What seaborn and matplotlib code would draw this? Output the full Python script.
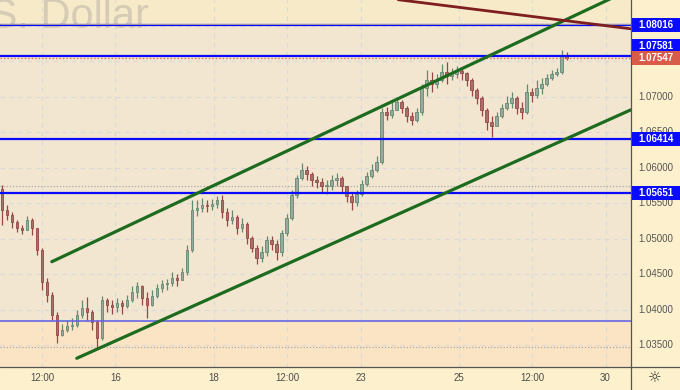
import numpy as np
import pandas as pd
import matplotlib
matplotlib.use("Agg")
import matplotlib.pyplot as plt
import seaborn as sns
from matplotlib.patches import Rectangle

# ---------------- data ----------------
first_open = 1.0570
closes = [1.0541, 1.0534, 1.0524, 1.0516, 1.0513, 1.0527, 1.0516, 1.0485, 1.0439, 1.0421,
          1.0393, 1.0365, 1.0372, 1.0377, 1.0379, 1.0393, 1.0403, 1.0397, 1.0383, 1.0361,
          1.0414, 1.0407, 1.0404, 1.0410, 1.0406, 1.0414, 1.0425, 1.0434, 1.0417, 1.0407,
          1.0420, 1.0431, 1.0437, 1.0438, 1.0445, 1.0442, 1.0454, 1.0485, 1.0541, 1.0544,
          1.0548, 1.0546, 1.0549, 1.0555, 1.0538, 1.0527, 1.0531, 1.0516, 1.0521, 1.0501,
          1.0487, 1.0473, 1.0482, 1.0499, 1.0493, 1.0482, 1.0508, 1.0530, 1.0562, 1.0586,
          1.0597, 1.0592, 1.0583, 1.0580, 1.0575, 1.0575, 1.0583, 1.0586, 1.0575, 1.0561,
          1.0552, 1.0563, 1.0577, 1.0589, 1.0597, 1.0608, 1.0679, 1.0675, 1.0682, 1.0693,
          1.0684, 1.0673, 1.0668, 1.0679, 1.0713, 1.0724, 1.0718, 1.0724, 1.0735, 1.0730,
          1.0732, 1.0737, 1.0734, 1.0724, 1.0710, 1.0699, 1.0682, 1.0665, 1.0659, 1.0673,
          1.0684, 1.0692, 1.0699, 1.0684, 1.0679, 1.0707, 1.0703, 1.0713, 1.0718, 1.0727,
          1.0732, 1.0735, 1.0758, 1.0755]
highs = [1.0576, 1.0548, 1.0538, 1.0527, 1.0520, 1.0532, 1.0530, 1.0516, 1.0487, 1.0445,
         1.0425, 1.0397, 1.0380, 1.0386, 1.0389, 1.0400, 1.0414, 1.0418, 1.0400, 1.0386,
         1.0420, 1.0417, 1.0414, 1.0417, 1.0414, 1.0421, 1.0434, 1.0439, 1.0435, 1.0425,
         1.0428, 1.0437, 1.0442, 1.0444, 1.0454, 1.0451, 1.0459, 1.0492, 1.0555, 1.0555,
         1.0558, 1.0555, 1.0556, 1.0561, 1.0562, 1.0544, 1.0541, 1.0534, 1.0530, 1.0524,
         1.0504, 1.0492, 1.0490, 1.0504, 1.0504, 1.0499, 1.0513, 1.0535, 1.0569, 1.0590,
         1.0607, 1.0603, 1.0594, 1.0589, 1.0586, 1.0583, 1.0590, 1.0593, 1.0589, 1.0575,
         1.0566, 1.0569, 1.0583, 1.0594, 1.0606, 1.0617, 1.0684, 1.0686, 1.0693, 1.0700,
         1.0696, 1.0687, 1.0679, 1.0684, 1.0718, 1.0738, 1.0735, 1.0732, 1.0746, 1.0749,
         1.0741, 1.0744, 1.0741, 1.0735, 1.0727, 1.0713, 1.0701, 1.0684, 1.0673, 1.0679,
         1.0690, 1.0701, 1.0707, 1.0701, 1.0693, 1.0718, 1.0713, 1.0724, 1.0727, 1.0732,
         1.0738, 1.0741, 1.0766, 1.0763]
lows = [1.0520, 1.0527, 1.0516, 1.0510, 1.0507, 1.0513, 1.0506, 1.0477, 1.0428, 1.0411,
        1.0386, 1.0354, 1.0363, 1.0369, 1.0372, 1.0376, 1.0389, 1.0386, 1.0372, 1.0346,
        1.0358, 1.0397, 1.0394, 1.0397, 1.0394, 1.0403, 1.0411, 1.0417, 1.0407, 1.0389,
        1.0406, 1.0417, 1.0425, 1.0428, 1.0434, 1.0434, 1.0442, 1.0449, 1.0482, 1.0532,
        1.0538, 1.0538, 1.0541, 1.0544, 1.0530, 1.0518, 1.0521, 1.0507, 1.0510, 1.0493,
        1.0482, 1.0465, 1.0468, 1.0476, 1.0485, 1.0470, 1.0476, 1.0504, 1.0527, 1.0558,
        1.0583, 1.0583, 1.0575, 1.0572, 1.0566, 1.0563, 1.0569, 1.0575, 1.0566, 1.0552,
        1.0541, 1.0546, 1.0561, 1.0575, 1.0586, 1.0594, 1.0606, 1.0668, 1.0670, 1.0682,
        1.0677, 1.0665, 1.0661, 1.0665, 1.0675, 1.0701, 1.0707, 1.0713, 1.0721, 1.0718,
        1.0724, 1.0727, 1.0724, 1.0715, 1.0701, 1.0690, 1.0673, 1.0654, 1.0644, 1.0659,
        1.0670, 1.0682, 1.0684, 1.0676, 1.0669, 1.0676, 1.0693, 1.0699, 1.0704, 1.0715,
        1.0724, 1.0730, 1.0732, 1.0752]
bar_start_day = -0.32      # trading-days since Mon 14, 00:00
bar_step_day = 0.102

tick_days = [0.5, 2, 4, 5.5, 7, 9, 10.5, 12]
tick_labels = ["12:00", "16", "18", "12:00", "23", "25", "12:00", "30"]
grid_prices = [1.035, 1.040, 1.045, 1.050, 1.055, 1.060, 1.065, 1.070, 1.075, 1.080]
price_labels = [1.035, 1.040, 1.045, 1.050, 1.055, 1.060, 1.065, 1.070]

level_lines = [1.08016, 1.07581, 1.06414, 1.05651]
support_level = 1.03845
last_price = 1.07547
dotted_levels = [1.0575, 1.0348]

upper_channel_days = [0.70, 12.52]
upper_channel_prices = [1.0468, 1.0852]
lower_channel_days = [1.21, 12.52]
lower_channel_prices = [1.0332, 1.0682]
resist_days = [7.77, 12.52]
resist_prices = [1.0837, 1.0796]

# ---------------- style ----------------
sns.set_theme(style="white")
plt.rcParams["font.family"] = ["Liberation Sans", "DejaVu Sans"]

W, H = 680, 390
fig = plt.figure(figsize=(W / 100, H / 100), dpi=100)
fig.patch.set_facecolor("#fdf1cd")
ax_l, ax_b, ax_w, ax_h = 0, 23 / H, 631 / W, 367 / H
ax = fig.add_axes([ax_l, ax_b, ax_w, ax_h])
ax.set_facecolor("#f2e6d0")
ylo, yhi = 1.03197, 1.08366
xlo, xhi = -0.357, 12.52
ax.set_xlim(xlo, xhi)
ax.set_ylim(ylo, yhi)
for s in ax.spines.values():
    s.set_visible(False)
ax.set_xticks([])
ax.set_yticks([])

# background zones
ax.axhspan(level_lines[0], yhi, color="#f6eac9", zorder=0, lw=0)
ax.axhspan(ylo, support_level, color="#fbe4c3", zorder=0, lw=0)

# grid
for d in tick_days:
    ax.axvline(d, color="#d9d9dc", lw=0.8, ls=(0, (4, 4)), zorder=1)
for p in grid_prices:
    ax.axhline(p, color="#d9d9dc", lw=0.8, ls=(0, (4, 4)), zorder=1)

# watermark (only partly inside the chart, as in the reference)
ax.text(149 / 631, 1 - 28 / 367, "U.S. Dollar", transform=ax.transAxes,
        ha="right", va="baseline", fontsize=30, color="#d6ccb6",
        family="Liberation Sans", zorder=1, clip_on=True)

# candles
opens = [first_open] + closes[:-1]
df = pd.DataFrame({"t": bar_start_day + bar_step_day * np.arange(len(closes)),
                   "o": opens, "c": closes, "h": highs, "l": lows})
df["h"] = df[["h", "o", "c"]].max(axis=1)
df["l"] = df[["l", "o", "c"]].min(axis=1)
up = df["c"] >= df["o"]
cols = np.where(up, "#628a70", "#964646")
body_cols = np.where(up, "#9aa99f", "#a8706a")
ax.vlines(df["t"], df["l"], df["h"], colors=cols, lw=0.9, zorder=3)
heights = (df["c"] - df["o"]).abs().clip(lower=0.00006)
ax.bar(df["t"], heights, bottom=df[["o", "c"]].min(axis=1), width=0.05,
       color=body_cols, edgecolor=cols, linewidth=0.6, zorder=4)

# horizontal levels
for p in level_lines:
    ax.axhline(p, color="#0a0aff", lw=1.6, zorder=5)
ax.axhline(level_lines[0] + 0.00018, color="#b8ae98", lw=0.6, zorder=5)
ax.axhline(support_level, color="#5a5ae6", lw=1.1, zorder=5)
ax.axhline(last_price, color="#e0705e", lw=1.0, ls=(0, (1, 1.5)), zorder=5)
for p in dotted_levels:
    ax.axhline(p, color="#a9a9a9", lw=0.9, ls=(0, (1, 1.5)), zorder=2)

# trend lines
sns.lineplot(x=upper_channel_days, y=upper_channel_prices, ax=ax, color="#1d6b1f", lw=2.3, zorder=6)
sns.lineplot(x=lower_channel_days, y=lower_channel_prices, ax=ax, color="#1d6b1f", lw=2.3, zorder=6)
sns.lineplot(x=resist_days, y=resist_prices, ax=ax, color="#7e1e1e", lw=2.0, zorder=6)
ax.set_xlim(xlo, xhi)
ax.set_ylim(ylo, yhi)
ax.set_xlabel("")
ax.set_ylabel("")

# axis frame lines
fig.add_artist(plt.Line2D([631 / W, 631 / W], [0, 1], color="#555555", lw=0.9))
fig.add_artist(plt.Line2D([0, 1], [23 / H, 23 / H], color="#555555", lw=0.9))

def yfrac(p):
    return ax_b + (p - ylo) / (yhi - ylo) * ax_h

def xfrac(d):
    return ax_l + (d - xlo) / (xhi - xlo) * ax_w

# price labels
for p in price_labels:
    fig.text(656 / W, yfrac(p), f"{p:.5f}", ha="center", va="center",
             fontsize=7, color="#555555")
# time labels
for d, lab in zip(tick_days, tick_labels):
    fig.text(xfrac(d), 12 / H, lab, ha="center", va="center", fontsize=7, color="#4d4d4d")

# level boxes
box_specs = [(level_lines[0], 0, "#0a0aff"), (level_lines[1], 10, "#0a0aff"),
             (last_price, 0, "#d85a48"), (level_lines[2], 0, "#0a0aff"),
             (level_lines[3], 0, "#0a0aff")]
for p, shift, colr in box_specs:
    yc = yfrac(p) + shift / H
    fig.add_artist(Rectangle((632 / W, yc - 7 / H), 48 / W, 14 / H,
                             facecolor=colr, edgecolor="none", zorder=10))
    fig.text(656 / W, yc, f"{p:.5f}", ha="center", va="center", fontsize=7,
             color="white", fontweight="bold", zorder=11)

# settings icon
fig.text(655 / W, 12 / H, "\u263c", ha="center", va="center", fontsize=11,
         color="#333333", family="DejaVu Sans")

fig.savefig("out.png", dpi=100, facecolor=fig.get_facecolor())
